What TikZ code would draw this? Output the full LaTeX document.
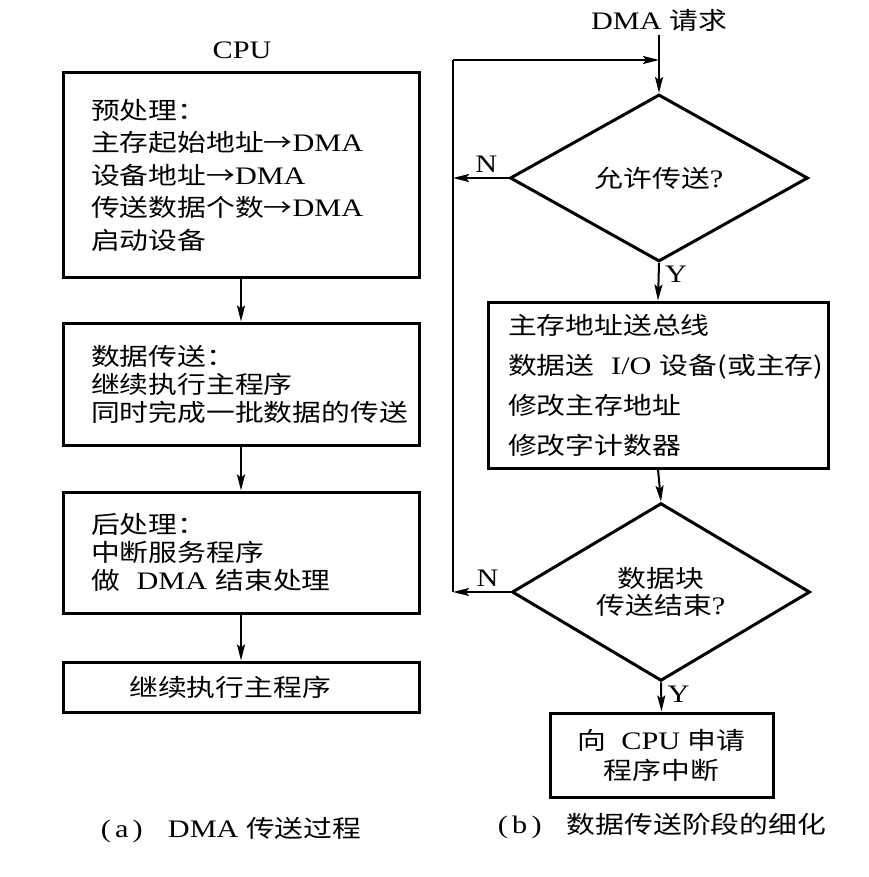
\documentclass[tikz,border=0pt]{standalone}
\usepackage{fontspec}
\setmainfont[FakeStretch=1.2,Scale=1.05]{Liberation Serif}
\newfontfamily\cjk[FakeStretch=1.2]{Noto Sans CJK SC}
\newcommand\zh[1]{{\cjk #1}}
\usetikzlibrary{shapes.geometric,arrows.meta}
\begin{document}
\begin{tikzpicture}[x=1pt,y=-1pt,
  txt/.style={font=\fontsize{24}{28}\selectfont},
  box/.style={draw,line width=3pt,rectangle,inner sep=0pt,txt},
  lbox/.style={box,text width=300pt,inner xsep=28pt,align=left,minimum height=#1},
  dia/.style={draw,diamond,line width=3pt,inner sep=0pt,minimum width=298pt,minimum height=167pt,align=center,txt},
  arr/.style={line width=2pt,-{Stealth[length=16pt,width=8pt,inset=3pt]}},
  ln/.style={line width=2pt},
  lab/.style={txt}]
\useasboundingbox (0,0) rectangle (868,877);

% left column
\node[lab] (cpu) at (242,50) {CPU};
\node[lbox=204pt,font=\fontsize{24}{32.5}\selectfont] (b1) at (241,175)
  {\zh{预处理：}\\\zh{主存起始地址→}DMA\\\zh{设备地址→}DMA\\\zh{传送数据个数→}DMA\\\zh{启动设备}};
\node[lbox=122pt] (b2) at (241,384)
  {\zh{数据传送：}\\\zh{继续执行主程序}\\\zh{同时完成一批数据的传送}};
\node[lbox=121pt] (b3) at (241,552.5)
  {\zh{后处理：}\\\zh{中断服务程序}\\\mbox{\zh{做}\ \ DMA \zh{结束处理}}};
\node[box,minimum width=356pt,minimum height=50pt] (b4) at (241,687)
  {\zh{继续执行主程序}\hspace*{22pt}};
\draw[arr] (b1) -- (b2);
\draw[arr] (b2) -- (b3);
\draw[arr] (b3) -- (b4);
\node[lab] (capa) at (231,830) {(\,a\,)\quad DMA \zh{传送过程}};

% right column
\node[lab] (req) at (659,20) {DMA \zh{请求}};
\node[dia] (d1) at (659,178) {\zh{允许传送}?};
\node[box,text width=300pt,inner xsep=20pt,align=left,minimum height=166pt,font=\fontsize{24}{40}\selectfont] (b5) at (658,385)
  {\zh{主存地址送总线}\\\mbox{\zh{数据送}\ \ I/O \zh{设备(或主存)}}\\\zh{修改主存地址}\\\zh{修改字计数器}};
\node[dia,font=\fontsize{24}{27}\selectfont] (d2) at (661,592) {\zh{数据块}\\\zh{传送结束}?};
\node[box,minimum width=223pt,minimum height=84pt,align=center,font=\fontsize{24}{30}\selectfont] (b6) at (661.5,755)
  {\mbox{\zh{向}\ \ CPU \zh{申请}}\\\zh{程序中断}};
\node[lab] (capb) at (662,826) {(\,b\,)\quad\zh{数据传送阶段的细化}};

\coordinate (lt) at (453,60);
\coordinate (jt) at (659,60);

\draw[arr] (req.south) -- (d1.north);
\draw[arr] (d1.south) -- node[lab,right=2pt,pos=0.3] (y1) {Y} (b5.north);
\draw[arr] (b5.south) -- (d2.north);
\draw[arr] (d2.south) -- node[lab,right=2pt,pos=0.4] (y2) {Y} (b6.north);
\draw[arr] (d1.west) -- node[lab,above=1pt,pos=0.4] (n1) {N} (d1.west -| lt);
\draw[arr] (d2.west) -- node[lab,above=1pt,pos=0.4] (n2) {N} (d2.west -| lt);
\draw[ln] (d2.west -| lt) -- (lt);
\draw[arr] (lt) -- (jt);
\end{tikzpicture}
\end{document}
